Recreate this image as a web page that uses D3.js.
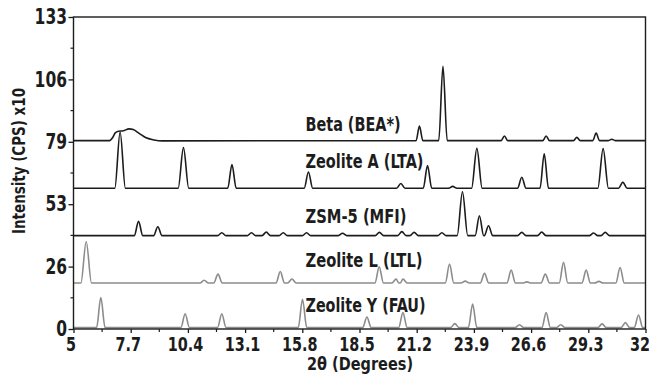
<!DOCTYPE html>
<html><head><meta charset="utf-8">
<script src="https://cdn.jsdelivr.net/npm/d3@7"></script>
<style>
html,body{margin:0;padding:0;background:#fff;}
svg text{font-family:"Liberation Sans Narrow","DejaVu Sans Condensed","Arial Narrow",sans-serif;font-weight:bold;}
</style></head>
<body><svg id="c" width="649" height="375"></svg>
<script>
// ---- data ----
const xTicks = [5, 7.7, 10.4, 13.1, 15.8, 18.5, 21.2, 23.9, 26.6, 29.3, 32];
const xTickLabels = ["5","7.7","10.4","13.1","15.8","18.5","21.2","23.9","26.6","29.3","32"];
const yTicks = [0, 26.6, 53.2, 79.8, 106.4, 133];
const yTickLabels = ["0","26","53","79","106","133"];
const seriesNames = ["Beta (BEA*)","Zeolite A (LTA)","ZSM-5 (MFI)","Zeolite L (LTL)","Zeolite Y (FAU)"];
const baselines = [80.3, 60.0, 39.8, 19.6, 0.6];
const halfWidths = [0.16, 0.2, 0.2, 0.2, 0.2];
// peaks: [2theta, intensity]
const betaPeaks = [[21.33,86.5],[22.44,112],[25.34,82.3],[27.31,82.3],[28.76,81.7],[29.67,83.5],[30.41,80.9]];
const betaHump = [[6.7,80.3],[6.85,81.6],[6.97,83.6],[7.12,84.3],[7.35,84.5],[7.62,85.3],[7.82,85.0],[8.1,83.4],[8.4,81.6],[8.8,80.6],[9.2,80.2]];
const ltaPeaks = [[7.2,84],[10.19,77.3],[12.48,70.1],[16.09,66.9],[20.45,62],[21.71,69.7],[22.9,60.8],[24.04,77],[26.16,64.7],[27.22,74.7],[30.0,76.9],[30.93,62.6]];
const mfiPeaks = [[8.07,45.9],[8.98,43.6],[12.0,41],[13.4,41],[14.1,41.3],[14.9,41],[16.0,41],[17.7,40.8],[19.44,41.2],[20.5,41.5],[21.08,41.2],[22.39,41],[23.36,58.5],[24.16,48.3],[24.59,44],[26.16,41.2],[27.1,41.3],[29.55,40.9],[30.1,41.2]];
const ltlPeaks = [[5.6,37.3],[11.17,20.8],[11.82,23.4],[14.76,24.5],[15.31,21.3],[19.43,26.5],[20.23,21.3],[20.55,21.3],[22.75,27.7],[23.49,20.4],[24.4,23.7],[25.66,25.1],[26.4,20.1],[27.27,23.4],[28.13,28.4],[29.2,25.1],[29.8,20.3],[30.8,26.2]];
const fauPeaks = [[6.29,13.4],[10.27,6.5],[12.0,6.5],[15.81,12.7],[18.85,5.1],[20.55,7],[23.0,2.3],[23.84,10.6],[26.05,1.8],[27.31,7],[28.0,1.8],[29.95,2.2],[31.05,2.7],[31.67,6]];
const peakLists = [betaPeaks, ltaPeaks, mfiPeaks, ltlPeaks, fauPeaks];
const extraPoints = [betaHump, [], [], [], []];
const colors = ["#1c1c1c","#1c1c1c","#1c1c1c","#8c8c8c","#8c8c8c"];

// ---- layout ----
const L = 73.5, R = 645.5, T = 17, B = 329;
const svg = d3.select("#c");
const x = d3.scaleLinear().domain([5, 32]).range([L, R]);
const y = d3.scaleLinear().domain([0, 133]).range([B, T]);

function buildPoints(i){
  const b = baselines[i], hw = halfWidths[i];
  let pts = [[5, b], [32, b]];
  extraPoints[i].forEach(p => pts.push(p));
  peakLists[i].forEach(([p, h]) => {
    const w = hw * (h - b > 15 ? 1.25 : 1);
    pts.push([p - w, b], [p, h], [p + w, b]);
  });
  pts.sort((a, c) => a[0] - c[0]);
  return pts.filter(p => p[0] >= 5 && p[0] <= 32);
}

const line = d3.line().x(d => x(d[0])).y(d => y(d[1])).curve(d3.curveMonotoneX);

[4,3,2,1,0].forEach(i => {
  svg.append("path").datum(buildPoints(i))
    .attr("d", line).attr("fill","none")
    .attr("stroke", colors[i]).attr("stroke-width", 1.6)
    .attr("stroke-linejoin","round");
});

// frame
svg.append("rect").attr("x", L).attr("y", T).attr("width", R - L).attr("height", B - T)
  .attr("fill","none").attr("stroke","#1c1c1c").attr("stroke-width",1.4);

// x axis
const xAxis = d3.axisBottom(x).tickValues(xTicks).tickSize(4).tickFormat((d,i)=>xTickLabels[i]);
const gx = svg.append("g").attr("transform",`translate(0,${B})`).call(xAxis);
gx.select(".domain").remove();
gx.selectAll("line").attr("stroke","#1c1c1c").attr("stroke-width",1.3);
gx.selectAll("text").attr("font-size",20).attr("fill","#1c1c1c")
  .attr("y", 7).attr("dy","0.75em")
  .attr("transform",(d,i)=>`translate(${i === xTicks.length-1 ? -6 : -3},0) scale(0.8,1)`);
const xMinor = xTicks.slice(0,-1).map((d,i)=> (d + xTicks[i+1]) / 2);
svg.append("g").selectAll("line").data(xMinor).join("line")
  .attr("x1", d=>x(d)).attr("x2", d=>x(d)).attr("y1", B).attr("y2", B+3)
  .attr("stroke","#1c1c1c").attr("stroke-width",1.2);

// y axis
const yAxis = d3.axisLeft(y).tickValues(yTicks).tickSize(5).tickFormat((d,i)=>yTickLabels[i]);
const gy = svg.append("g").attr("transform",`translate(${L},0)`).call(yAxis);
gy.select(".domain").remove();
gy.selectAll("line").attr("stroke","#1c1c1c").attr("stroke-width",1.3);
gy.selectAll("text").attr("font-size",21).attr("fill","#1c1c1c")
  .attr("x", -8).attr("transform","scale(0.82,1)");
const yMinor = yTicks.slice(0,-1).map((d,i)=> (d + yTicks[i+1]) / 2);
svg.append("g").selectAll("line").data(yMinor).join("line")
  .attr("x1", L-3).attr("x2", L).attr("y1", d=>y(d)).attr("y2", d=>y(d))
  .attr("stroke","#1c1c1c").attr("stroke-width",1.2);

// axis titles
svg.append("text").attr("transform",`translate(25,161) rotate(-90)`)
  .attr("text-anchor","middle").attr("font-size",18).attr("fill","#1c1c1c")
  .attr("textLength",146).attr("lengthAdjust","spacingAndGlyphs")
  .text("Intensity (CPS) x10");
svg.append("text").attr("x", 360).attr("y", 370).attr("text-anchor","middle")
  .attr("font-size",17.5).attr("fill","#1c1c1c")
  .attr("textLength",106).attr("lengthAdjust","spacingAndGlyphs")
  .text("2θ (Degrees)");

// series labels
const labelY = [130.5, 168, 223, 266.5, 311.5];
const labelW = [95, 118, 101, 117, 120];
seriesNames.forEach((n,i)=>{
  svg.append("text").attr("x", 305.5).attr("y", labelY[i]).attr("font-size",20)
    .attr("fill","#1c1c1c")
    .attr("textLength",labelW[i]).attr("lengthAdjust","spacingAndGlyphs")
    .text(n);
});
</script></body></html>
